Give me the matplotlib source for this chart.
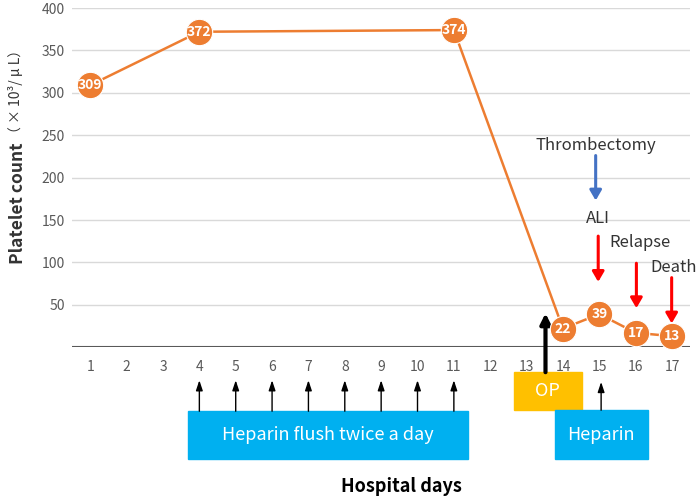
import matplotlib
matplotlib.use("Agg")
import matplotlib.pyplot as plt
from matplotlib.patches import Rectangle

plt.rcParams["font.family"] = ["Noto Sans CJK JP", "DejaVu Sans"]

# data
days = list(range(1, 18))
obs_days = [1, 4, 11, 14, 15, 16, 17]
platelets = [309, 372, 374, 22, 39, 17, 13]
yticks = [50, 100, 150, 200, 250, 300, 350, 400]
flush_days = [4, 5, 6, 7, 8, 9, 10, 11]

ORANGE = "#ED7D31"
BLUE_BOX = "#00B0F0"
GOLD = "#FFC000"
RED = "#FF0000"
BLUE = "#4472C4"

fig = plt.figure(figsize=(7, 5.01), dpi=100)
ax = fig.add_axes([0.103, 0.307, 0.883, 0.677])

ax.plot(obs_days, platelets, color=ORANGE, lw=1.8, zorder=3, clip_on=False)
ax.plot(obs_days, platelets, "o", ms=19, color=ORANGE, mec="white", mew=0.8,
        zorder=4, clip_on=False)
for d, v in zip(obs_days, platelets):
    ax.text(d, v, str(v), ha="center", va="center", color="white",
            fontsize=10, fontweight="bold", zorder=5)

ax.set_xlim(0.5, 17.5)
ax.set_ylim(0, 400)
ax.set_xticks(days)
ax.set_yticks(yticks)
ax.tick_params(length=0, labelsize=10, labelcolor="#595959")
ax.tick_params(axis="x", pad=9)
ax.tick_params(axis="y", pad=5)
ax.grid(axis="y", color="#D9D9D9", lw=1)
ax.set_axisbelow(True)
for s in ax.spines.values():
    s.set_visible(False)
ax.axhline(0, color="#595959", lw=1.5, zorder=2)

# event annotations
def arrow(x, y0, y1, color, lw=1.5, hw=0.35):
    ax.annotate("", xy=(x, y1), xytext=(x, y0), annotation_clip=False,
                arrowprops=dict(arrowstyle=f"-|>,head_width={hw},head_length=0.6",
                                color=color, lw=lw, shrinkA=0, shrinkB=0))

ax.text(14.9, 238, "Thrombectomy", ha="center", va="center", fontsize=12, color="#333333")
arrow(14.9, 226, 173, BLUE, lw=2.2)
ax.text(14.95, 152, "ALI", ha="center", va="center", fontsize=12, color="#333333")
arrow(14.97, 131, 77, RED, lw=2.2)
ax.text(16.11, 123, "Relapse", ha="center", va="center", fontsize=12, color="#333333")
arrow(16.02, 99, 46, RED, lw=2.2)
ax.text(17.05, 94, "Death", ha="center", va="center", fontsize=12, color="#333333")
arrow(16.99, 82, 28, RED, lw=2.2)

# treatment boxes below axis
boxes = [
    (3.69, 11.38, -132, -75.5, BLUE_BOX, "Heparin flush twice a day"),
    (12.65, 14.52, -74.3, -29.5, GOLD, "OP"),
    (13.77, 16.33, -132, -74.3, BLUE_BOX, "Heparin"),
]
for x0, x1, y0, y1, c, label in boxes:
    ax.add_patch(Rectangle((x0, y0), x1 - x0, y1 - y0, color=c,
                           clip_on=False, zorder=3))
    ax.text((x0 + x1) / 2, (y0 + y1) / 2, label, ha="center", va="center",
            color="white", fontsize=13, zorder=4)

for d in flush_days:
    arrow(d, -75.5, -39, "black", lw=1.0, hw=0.2)
arrow(15.05, -74.3, -41, "black", lw=1.0, hw=0.2)
arrow(13.52, -29.5, 40, "black", lw=3, hw=0.3)

fig.text(0.574, 0.028, "Hospital days", ha="center", va="center",
         fontsize=13, fontweight="bold")

# y label in two parts: bold name + smaller unit stacked after it
t1 = fig.text(0.026, 1 - 264 / 501, "Platelet count", rotation=90, ha="center",
              va="bottom", fontsize=12.5, fontweight="bold", color="#333333")
fig.canvas.draw()
top = t1.get_window_extent().y1 / fig.bbox.height
fig.text(0.022, top + 0.004, "（ × 10³/ μ L）", rotation=90, ha="center",
         va="bottom", fontsize=10, color="#333333")

fig.savefig("out.png", dpi=100)
